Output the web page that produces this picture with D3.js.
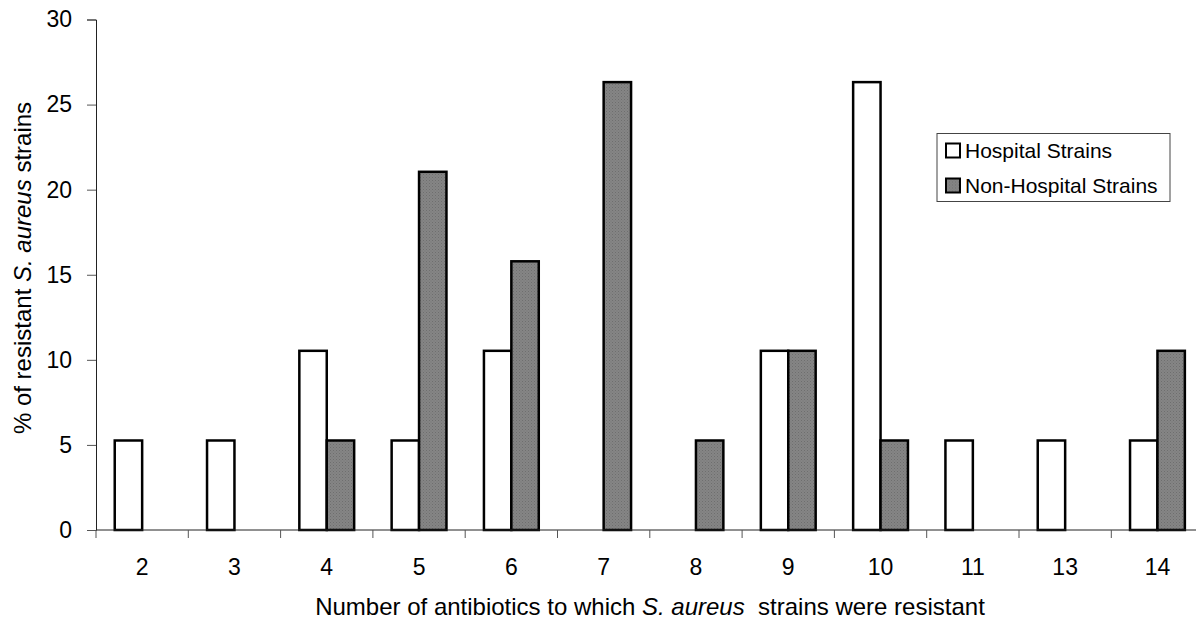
<!DOCTYPE html>
<html>
<head>
<meta charset="utf-8">
<script src="https://cdn.jsdelivr.net/npm/d3@7"></script>
<style>
  body { margin: 0; background: #fff; }
  svg { display: block; font-family: "Liberation Sans", Arial, sans-serif; }
</style>
</head>
<body>
<div id="chart"></div>
<script>
(function() {
  var categories, hospital, nonHospital, yTicks, seriesNames;

  categories = ["2", "3", "4", "5", "6", "7", "8", "9", "10", "11", "13", "14"];
  hospital = [5.26, 5.26, 10.53, 5.26, 10.53, 0, 0, 10.53, 26.32, 5.26, 5.26, 5.26];
  nonHospital = [0, 0, 5.26, 21.05, 15.79, 26.32, 5.26, 10.53, 5.26, 0, 0, 10.53];
  yTicks = [0, 5, 10, 15, 20, 25, 30];
  seriesNames = ["Hospital Strains", "Non-Hospital Strains"];

  var W = 1196, H = 619;
  var left = 96, right = 1203.6, top = 19.5, bottom = 530;

  var svg = d3.select("#chart").append("svg").attr("width", W).attr("height", H);

  var defs = svg.append("defs");
  var pat = defs.append("pattern").attr("id", "grayDots").attr("patternUnits", "userSpaceOnUse")
    .attr("width", 3).attr("height", 3);
  pat.append("rect").attr("width", 3).attr("height", 3).attr("fill", "#858585");
  pat.append("rect").attr("x", 0).attr("y", 0).attr("width", 1).attr("height", 1).attr("fill", "#6e6e6e");
  pat.append("rect").attr("x", 1.5).attr("y", 1.5).attr("width", 1).attr("height", 1).attr("fill", "#767676");

  var x = d3.scaleBand().domain(categories).range([left, right]).padding(0);
  var y = d3.scaleLinear().domain([0, 30]).range([bottom, top]);
  var barW = x.bandwidth() * 0.297;

  var rows = categories.map(function(c, i) {
    return { cat: c, h: hospital[i], n: nonHospital[i] };
  });

  // bars
  var g = svg.append("g");
  rows.forEach(function(d) {
    var cx = x(d.cat) + x.bandwidth() / 2;
    if (d.h > 0) {
      g.append("rect").attr("x", cx - barW).attr("y", y(d.h))
        .attr("width", barW).attr("height", y(0) - y(d.h))
        .attr("fill", "#fff").attr("stroke", "#000").attr("stroke-width", 2.5);
    }
    if (d.n > 0) {
      g.append("rect").attr("x", cx).attr("y", y(d.n))
        .attr("width", barW).attr("height", y(0) - y(d.n))
        .attr("fill", "url(#grayDots)").attr("stroke", "#000").attr("stroke-width", 2.5);
    }
  });

  // y axis
  var yAxis = svg.append("g").attr("transform", "translate(" + left + ",0)")
    .call(d3.axisLeft(y).tickValues(yTicks).tickSize(9).tickPadding(15));
  yAxis.select(".domain").attr("stroke", "#222");
  yAxis.selectAll(".tick line").attr("stroke", "#555");
  yAxis.selectAll("text").attr("font-size", 23).attr("fill", "#000")
    .attr("font-family", "Liberation Sans, Arial, sans-serif");

  // x axis
  var xAxis = svg.append("g").attr("transform", "translate(0," + bottom + ")")
    .call(d3.axisBottom(x).tickSize(0).tickPadding(29));
  xAxis.select(".domain").attr("stroke", "#222").attr("d", "M" + left + ",0H" + right);
  xAxis.selectAll("text").attr("font-size", 23).attr("fill", "#000")
    .attr("font-family", "Liberation Sans, Arial, sans-serif");
  // tick marks between categories
  xAxis.selectAll("line.sep").data(categories.concat(["end"])).enter().append("line")
    .attr("class", "sep")
    .attr("x1", function(d, i) { return left + i * x.bandwidth(); })
    .attr("x2", function(d, i) { return left + i * x.bandwidth(); })
    .attr("y1", 0).attr("y2", 8).attr("stroke", "#555");

  // axis titles
  var xt = svg.append("text").attr("x", 650).attr("y", 614.5).attr("text-anchor", "middle")
    .attr("font-size", 24).attr("fill", "#000");
  xt.append("tspan").text("Number of antibiotics to which ");
  xt.append("tspan").attr("font-style", "italic").text("S. aureus");
  xt.append("tspan").attr("xml:space", "preserve").text("  strains were resistant");

  var yt = svg.append("text").attr("transform", "translate(31," + 268 + ") rotate(-90)")
    .attr("text-anchor", "middle").attr("font-size", 24).attr("fill", "#000");
  yt.append("tspan").text("% of resistant ");
  yt.append("tspan").attr("font-style", "italic").text("S. aureus");
  yt.append("tspan").text(" strains");

  // legend
  var lg = svg.append("g").attr("transform", "translate(937,133.5)");
  lg.append("rect").attr("width", 233).attr("height", 68)
    .attr("fill", "#fff").attr("stroke", "#444").attr("stroke-width", 1);
  seriesNames.forEach(function(name, i) {
    var yy = 17 + i * 35;
    lg.append("rect").attr("x", 9).attr("y", yy - 7).attr("width", 14).attr("height", 14)
      .attr("fill", i === 0 ? "#fff" : "url(#grayDots)").attr("stroke", "#000").attr("stroke-width", 2);
    lg.append("text").attr("x", 28).attr("y", yy + 7.5).attr("font-size", 21).attr("fill", "#000").text(name);
  });
})();
</script>
</body>
</html>
